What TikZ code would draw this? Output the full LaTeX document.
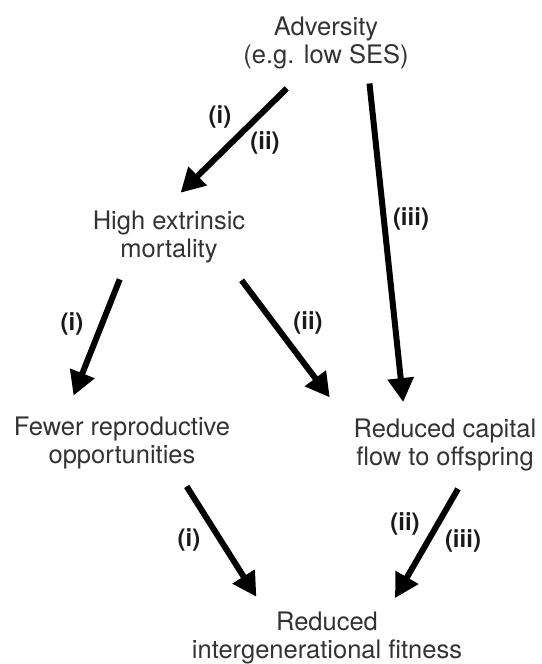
\documentclass[tikz,border=0pt]{standalone}
\usepackage{fontspec}
\setmainfont{TeX Gyre Heros}
\usetikzlibrary{arrows.meta}
\definecolor{txtgray}{HTML}{333333}
\tikzset{
  box/.style={align=center, inner sep=0pt, anchor=north, text=txtgray,
    font=\fontsize{25.5}{28}\selectfont},
  lbl/.style={inner sep=0pt, text=black!90,
    font=\fontsize{24}{26}\selectfont\bfseries},
  arr/.style={line width=6pt, -{Triangle[length=24pt,width=25pt]}}
}

\begin{document}
\begin{tikzpicture}[x=1pt,y=-1pt]
\useasboundingbox (0,0) rectangle (541,664);
\node[box] (adv) at (326,17) {Adversity\\(e.g. low SES)};
\node[box] (high) at (169,211) {High extrinsic\\mortality};
\node[box] (few) at (122,417) {Fewer reproductive\\opportunities};
\node[box] (cap) at (445,419) {Reduced capital\\flow to offspring};
\node[box] (fit) at (327,612) {Reduced\\intergenerational fitness};
% arrows
\draw[arr, shorten <=27pt, shorten >=26pt] ([xshift=-20pt]adv.south) -- ([xshift=-7pt]high.north);
\draw[arr, shorten <=14pt, shorten >=17pt] ([xshift=42pt]adv.south) -- ([xshift=-40pt]cap.north);
\draw[arr, shorten <=17pt, shorten >=23pt] ([xshift=-43pt]high.south) -- ([xshift=-57pt]few.north);
\draw[arr, shorten <=21pt, shorten >=27pt] ([xshift=60pt]high.south) -- ([xshift=-99pt]cap.north);
\draw[arr, shorten <=20pt, shorten >=18pt] ([xshift=54pt]few.south) -- ([xshift=-61pt]fit.north);
\draw[arr, shorten <=20pt, shorten >=16pt] ([xshift=23pt]cap.south) -- ([xshift=60pt]fit.north);
% labels
\node[lbl] (l1a) at (220,117) {(i)};
\node[lbl] (l1b) at (265,143) {(ii)};
\node[lbl] (l2) at (411,219) {(iii)};
\node[lbl] (l3) at (72,324) {(i)};
\node[lbl] (l4) at (308,323) {(ii)};
\node[lbl] (l5) at (189,540) {(i)};
\node[lbl] (l6a) at (405,524) {(ii)};
\node[lbl] (l6b) at (463,541) {(iii)};
\end{tikzpicture}
\end{document}
